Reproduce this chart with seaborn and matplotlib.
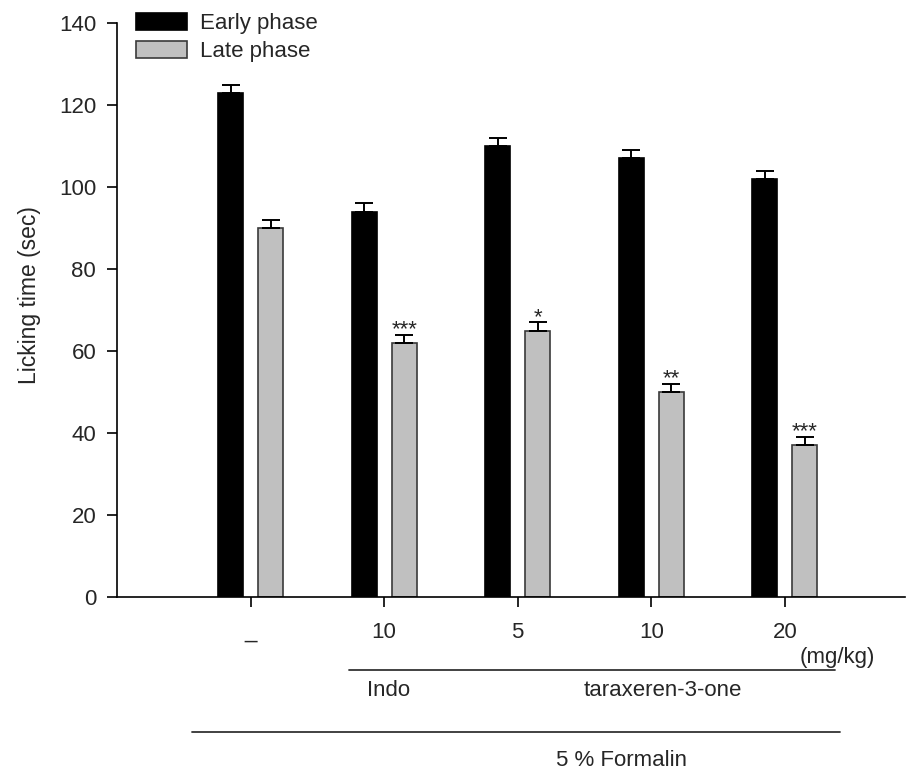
import matplotlib
matplotlib.use("Agg")
import matplotlib.pyplot as plt
import seaborn as sns
import pandas as pd
from matplotlib.lines import Line2D
from matplotlib.patches import Patch

groups = ["Control", "Indo 10", "T 5", "T 10", "T 20"]
dose_labels = ["_", "10", "5", "10", "20"]
phases = ["Early phase", "Late phase"]
early = [123, 94, 110, 107, 102]
late = [90, 62, 65, 50, 37]
early_err = [2, 2, 2, 2, 2]
late_err = [2, 2, 2, 2, 2]
late_stars = ["", "***", "*", "**", "***"]

df = pd.DataFrame({
    "group": groups * 2,
    "phase": [phases[0]] * len(groups) + [phases[1]] * len(groups),
    "time": early + late,
})

sns.set_style("ticks")
plt.rcParams["font.family"] = ["Liberation Sans", "DejaVu Sans"]

W, H = 907, 774
fig = plt.figure(figsize=(W / 100, H / 100), dpi=100)
ax = fig.add_axes([117 / W, 1 - 597 / H, (905 - 117) / W, (597 - 23) / H])

colors = ["black", "#c0c0c0"]
edges = ["black", "#3a3a3a"]
sns.barplot(data=df, x="group", y="time", hue="phase", order=groups, hue_order=phases,
            palette=colors, saturation=1, width=0.6, gap=0.377,
            errorbar=None, legend=False, ax=ax)

# split bars by phase (left = early, right = late within each group)
bars = sorted([p for p in ax.patches if p.get_height() > 0], key=lambda p: p.get_x())
phase_bars = [bars[0::2], bars[1::2]]
errs = [early_err, late_err]
vals = [early, late]
for i in range(2):
    xs = []
    for bar in phase_bars[i]:
        bar.set_edgecolor(edges[i])
        bar.set_linewidth(1.2)
        xs.append(bar.get_x() + bar.get_width() / 2)
    ax.errorbar(xs, vals[i], yerr=[[0] * len(xs), errs[i]], fmt="none",
                ecolor="black", elinewidth=1.4, capsize=6.8, capthick=1.4, zorder=5)
    if i == 1:
        for x, v, e, s in zip(xs, vals[i], errs[i], late_stars):
            if s:
                ax.text(x, v + e - 0.1, s, ha="center", va="baseline", fontsize=16)

ax.set_ylim(0, 140)
ax.set_yticks(range(0, 141, 20))
ax.set_xlim(-1.0, 4.9)
ax.set_xticks(range(len(groups)))
ax.set_xticklabels(dose_labels)
ax.tick_params(axis="both", labelsize=16, length=7, width=1.2, color="black", direction="out")
ax.tick_params(axis="x", pad=11)
ax.tick_params(axis="y", pad=8)
ax.set_xlabel("")
ax.set_ylabel("Licking time (sec)", fontsize=16.5)
ax.yaxis.set_label_coords(-0.097, 0.526)
sns.despine(ax=ax)
for sp in ["left", "bottom"]:
    ax.spines[sp].set_linewidth(1.2)
    ax.spines[sp].set_color("black")

handles = [Patch(facecolor=c, edgecolor=e, linewidth=1.2) for c, e in zip(colors, edges)]
ax.legend(handles=handles, labels=phases,
          loc="upper left", bbox_to_anchor=(136 / W, 1 - 13 / H), bbox_transform=fig.transFigure,
          frameon=False, fontsize=16, handlelength=2.3, handleheight=0.8,
          labelspacing=0.3, handletextpad=0.6, borderpad=0, borderaxespad=0)

# group annotations under the axis
fig.text(837 / W, 1 - 657 / H, "(mg/kg)", ha="center", va="center", fontsize=16)
fig.add_artist(Line2D([349 / W, 835 / W], [1 - 669.5 / H] * 2, color="#333333", lw=1.3,
                      transform=fig.transFigure))
fig.text(389 / W, 1 - 691 / H, "Indo", ha="center", va="center", fontsize=16)
fig.text(663 / W, 1 - 691 / H, "taraxeren-3-one", ha="center", va="center", fontsize=16)
fig.add_artist(Line2D([192 / W, 840 / W], [1 - 732 / H] * 2, color="#333333", lw=1.3,
                      transform=fig.transFigure))
fig.text(621 / W, 1 - 760 / H, "5 % Formalin", ha="center", va="center", fontsize=16)

fig.savefig("out.png", dpi=100)
